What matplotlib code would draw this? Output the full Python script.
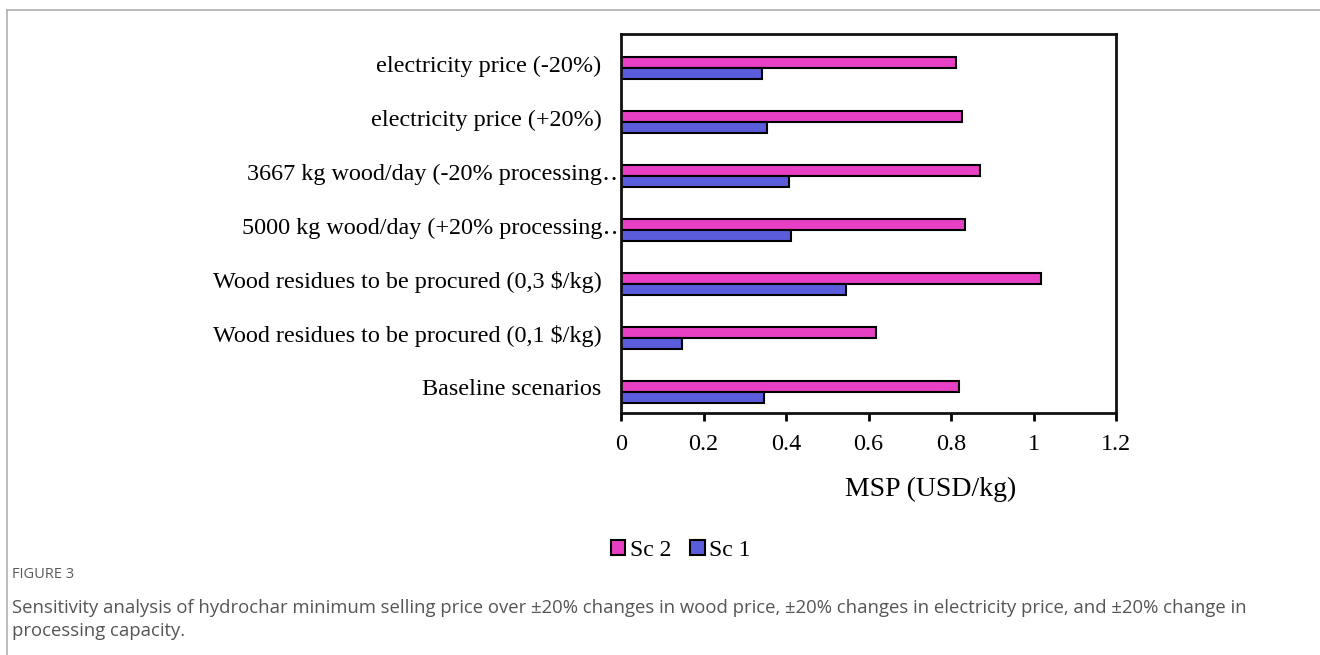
import numpy as np
import matplotlib.pyplot as plt
from matplotlib.lines import Line2D
from matplotlib.transforms import ScaledTranslation

# Scenario labels, listed from bottom to top of the chart
cases = ['Baseline scenarios',
         'Wood residues to be procured (0,1 $/kg)',
         'Wood residues to be procured (0,3 $/kg)',
         '5000 kg wood/day (+20% processing\u2025',
         '3667 kg wood/day (-20% processing\u2025',
         'electricity price (+20%)',
         'electricity price (-20%)']

# Minimum selling price (USD/kg) for each scenario
sc2 = [0.819, 0.619, 1.019, 0.835, 0.869, 0.826, 0.811]
sc1 = [0.347, 0.148, 0.546, 0.413, 0.406, 0.353, 0.341]

x_ticks = [0, 0.2, 0.4, 0.6, 0.8, 1, 1.2]
x_tick_labels = ['0', '0.2', '0.4', '0.6', '0.8', '1', '1.2']

serif = ['Liberation Serif', 'DejaVu Serif']
sans = ['Open Sans', 'DejaVu Sans']

pink = '#e840c4'
blue = '#5a5cdc'

fig = plt.figure(figsize=(13.2, 6.55), dpi=100)
ax = fig.add_axes([0.4705, 0.3695, 0.375, 0.5786])

pos = np.arange(len(cases))
h = 0.21
ax.barh(pos + h / 2, sc2, height=h, color=pink, edgecolor='black',
        linewidth=1.5, label='Sc 2')
ax.barh(pos - h / 2, sc1, height=h, color=blue, edgecolor='black',
        linewidth=1.5, label='Sc 1')

ax.set_xlim(0, 1.2)
ax.set_ylim(-0.39, 6.63)
ax.set_xticks(x_ticks)
ax.set_xticklabels(x_tick_labels, fontsize=17.4, family=serif)
ax.set_yticks(pos)
ax.set_yticklabels(cases, fontsize=17.4, family=serif)
ax.tick_params(axis='y', length=0, pad=14)
ax.tick_params(axis='x', length=6, width=2, direction='out', pad=9)

# labels sit a little above the bar pair; the two cut-off ones run up to
# the axis line
for lab in ax.get_yticklabels():
    dx = 0.17 if lab.get_text().endswith('\u2025') else 0
    lab.set_transform(lab.get_transform() +
                      ScaledTranslation(dx, 0.045, fig.dpi_scale_trans))

for s in ax.spines.values():
    s.set_linewidth(2)
    s.set_color('#111111')

fig.text(931 / 1320, 1 - 489 / 655, 'MSP (USD/kg)', fontsize=20,
         family=serif, ha='center', va='center')

fig.legend(loc='center', bbox_to_anchor=(681 / 1320, 1 - 550 / 655),
           ncol=2, frameon=False, prop={'family': serif, 'size': 17},
           handlelength=0.6, handleheight=0.6, handletextpad=0.2,
           columnspacing=0.8)

# grey panel border around the figure
fig.add_artist(Line2D([7 / 1320, 1], [1 - 10 / 655, 1 - 10 / 655],
                      color='#b0b0b0', lw=1.2))
fig.add_artist(Line2D([7 / 1320, 7 / 1320], [0, 1 - 10 / 655],
                      color='#b0b0b0', lw=1.2))

fig.text(12 / 1320, 1 - 575 / 655, 'FIGURE 3', fontsize=10.5, family=sans,
         color='#5a5a5a', va='center')
fig.text(12 / 1320, 1 - 608 / 655,
         'Sensitivity analysis of hydrochar minimum selling price over '
         '\u00b120% changes in wood price, \u00b120% changes in electricity '
         'price, and \u00b120% change in', fontsize=13.3, family=sans,
         color='#555555', va='center')
fig.text(12 / 1320, 1 - 631 / 655, 'processing capacity.', fontsize=13.3,
         family=sans, color='#555555', va='center')

plt.savefig('out.png', dpi=100)
